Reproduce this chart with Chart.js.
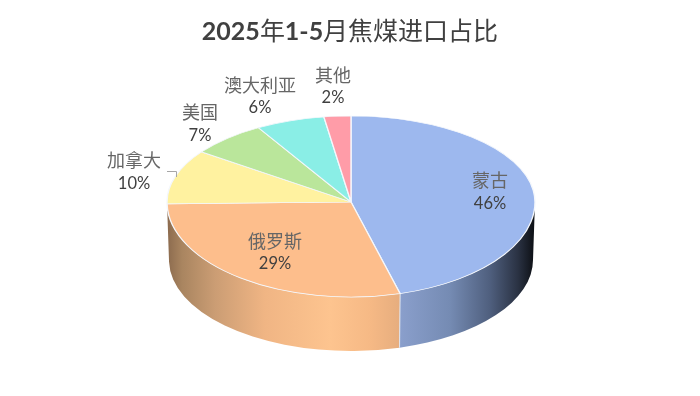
<!DOCTYPE html>
<html>
<head>
<meta charset="utf-8">
<style>
html,body{margin:0;padding:0;background:#fff}canvas{display:block}
@font-face{font-family:"TitleCJK";font-weight:700;src:local("Noto Sans CJK SC"),local("Noto Sans CJK SC Regular"),local("NotoSansCJKsc-Regular");unicode-range:U+3000-9FFF;}
</style>
<script src="https://cdn.jsdelivr.net/npm/chart.js@4"></script>
</head>
<body>
<canvas id="c" width="700" height="396"></canvas>
<script>
const categories = ["蒙古","俄罗斯","加拿大","美国","澳大利亚","其他"];
const values = [45.7,29.0,10.2,6.7,6.05,2.35];
const percentLabels = ["46%","29%","10%","7%","6%","2%"];
const colors = ["#9db8ee","#fdbe8c","#fff2a0","#bae69b","#8aeee6","#ff9ca8"];
const titleText = "2025年1-5月焦煤进口占比";

const labelPos = [[490,180,204],[275,241,264],[134,160,184],[200,112,136],[260,85,108],[333,75,98]];
const view = {cx:351, cy:202, rx:184, ryTop:86, ryBottom:95, bottomCy:260, bottomRx:182, bottomRy:91};
const sideStops = [
  [[400,"#8a9fcc"],[450,"#758bb3"],[490,"#4f5f7e"],[518,"#2a3243"],[533,"#0f1218"]],
  [[168,"#8d6c4f"],[182,"#a98560"],[215,"#cb9d74"],[265,"#f0b584"],[330,"#fdc48f"],[370,"#f6b985"],[400,"#e6ad7e"]]
];

function applyView(ctx, arc, half){
  const top = half === "top";
  ctx.beginPath();
  ctx.rect(0, top ? 0 : view.cy, 700, top ? view.cy : 396 - view.cy);
  ctx.clip();
  ctx.translate(view.cx, view.cy);
  ctx.scale(1, (top ? view.ryTop : view.ryBottom) / arc.outerRadius);
  ctx.translate(-arc.x, -arc.y);
}

const pie3d = {
  id:"pie3d",
  beforeDatasetsDraw(chart){
    const ctx = chart.ctx, arcs = chart.getDatasetMeta(0).data;
    arcs.forEach((arc,i)=>{
      const a0 = Math.max(arc.startAngle,0), a1 = Math.min(arc.endAngle,Math.PI);
      if(a1 <= a0 || !sideStops[i]) return;
      const xs = sideStops[i];
      const g = ctx.createLinearGradient(xs[0][0],0,xs[xs.length-1][0],0);
      xs.forEach(s=>g.addColorStop((s[0]-xs[0][0])/(xs[xs.length-1][0]-xs[0][0]),s[1]));
      ctx.save();
      ctx.beginPath();
      ctx.ellipse(view.cx,view.cy,view.rx,view.ryBottom,0,a0,a1,false);
      ctx.ellipse(view.cx,view.bottomCy,view.bottomRx,view.bottomRy,0,a1,a0,true);
      ctx.closePath();
      ctx.fillStyle = g;
      ctx.fill();
      ctx.restore();
    });
    // light seam between the two visible walls
    const s = arcs[0].endAngle;
    ctx.save();
    ctx.strokeStyle = "#dfe6f2";
    ctx.lineWidth = 1;
    ctx.beginPath();
    ctx.moveTo(view.cx+view.rx*Math.cos(s), view.cy+view.ryBottom*Math.sin(s));
    ctx.lineTo(view.cx+view.bottomRx*Math.cos(s), view.bottomCy+view.bottomRy*Math.sin(s));
    ctx.stroke();
    ctx.restore();
    ctx.save();
    applyView(ctx, arcs[0], "top");
  },
  afterDatasetsDraw(chart){
    const ctx = chart.ctx, meta = chart.getDatasetMeta(0);
    ctx.restore();
    ctx.save();
    applyView(ctx, meta.data[0], "bottom");
    meta.controller.draw();
    ctx.restore();
  },
  afterDraw(chart){
    const ctx = chart.ctx;
    ctx.save();
    ctx.textAlign = "center";
    ctx.textBaseline = "middle";
    categories.forEach((name,i)=>{
      const p = labelPos[i];
      ctx.font = '18px "Noto Sans CJK SC"';
      ctx.fillStyle = "#666666";
      ctx.fillText(name,p[0],p[1]);
      ctx.font = '16.5px Lato';
      ctx.fillStyle = "#404040";
      ctx.fillText(percentLabels[i],p[0],p[2]);
    });
    // leader of the 加拿大 label
    ctx.strokeStyle = "#a6a6a6";
    ctx.lineWidth = 1;
    ctx.beginPath();
    ctx.moveTo(167,171.5);ctx.lineTo(176.5,171.5);ctx.lineTo(176.5,177);
    ctx.stroke();
    ctx.restore();
  }
};

function build(){
  new Chart(document.getElementById("c"),{
    type:"pie",
    data:{labels:categories,datasets:[{
      data:values,
      backgroundColor:colors,
      borderColor:"#f4f7fc",
      borderWidth:1.4,
      radius:184,
      clip:false
    }]},
    options:{
      responsive:false,
      animation:false,
      devicePixelRatio:1,
      plugins:{
        legend:{display:false},
        tooltip:{enabled:false},
        title:{display:true,text:titleText,color:"#404040",
          font:{family:'TitleCJK,Lato,"Noto Sans CJK SC"',size:25,weight:"bold"},
          padding:{top:17,bottom:10}}
      }
    },
    plugins:[pie3d]
  });
}
if(document.fonts && document.fonts.load){
  document.fonts.load('bold 25px TitleCJK','焦').then(build,build);
}else{build();}
</script>
</body>
</html>
